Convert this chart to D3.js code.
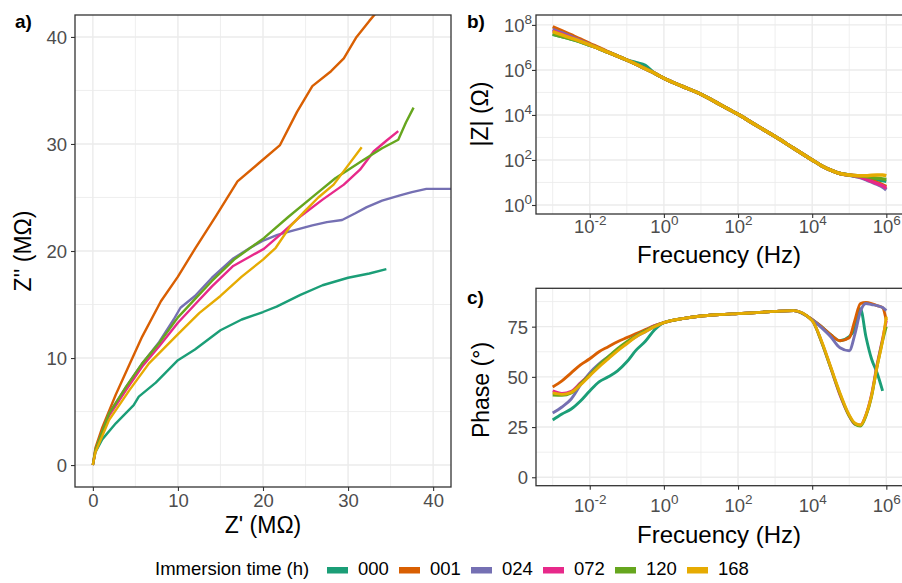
<!DOCTYPE html>
<html><head><meta charset="utf-8">
<script src="https://cdn.jsdelivr.net/npm/d3@7"></script>
<style>body{margin:0;background:#fff}svg{display:block}text{font-family:"Liberation Sans",Arial,sans-serif}</style>
</head><body><svg id="chart" width="902" height="583"></svg>
<script>
// ---------- DATA ----------
const seriesNames = ["000","001","024","072","120","168"];
const seriesColors = ["#1B9E77","#D95F02","#7570B3","#E7298A","#66A61E","#E6AB02"];

// Panel a: Nyquist, Z' and Z'' in MOhm
const zRe000 = [0,0.3,1.1,2.7,4.8,5.4,7.4,10,12,15,17.5,20,21.6,24.4,27,30,32.5,34.5];
const zIm000 = [0,1.2,2.4,3.9,5.6,6.4,7.7,9.8,10.8,12.6,13.6,14.3,14.8,15.9,16.8,17.5,17.9,18.3];
const zRe001 = [0,0.3,1.1,2.7,4.3,5.8,8,10,12,14.5,17,19.5,22,24,25.8,28,29.5,31,32.5,34.3,36];
const zIm001 = [0,1.6,3.5,6.6,9.4,12,15.3,17.6,20.2,23.3,26.5,28.2,29.9,33,35.4,36.8,38,40,41.5,43.2,45];
const zRe024 = [0,0.3,1.9,3.9,5.8,7.8,9.5,10.3,12,14,16.5,18.5,20.1,21.7,23.5,25.8,27.5,29.3,30.8,32.2,34,36.1,37.5,39.2,42.5];
const zIm024 = [0,1.4,4.8,7.3,9.5,11.5,13.6,14.7,15.8,17.5,19.3,20.3,21.0,21.5,21.9,22.4,22.7,22.9,23.5,24.1,24.7,25.2,25.5,25.8,25.8];
const zRe072 = [0,0.3,1.9,3.9,5.8,7.8,10,12,14,16.5,20.1,22,24.5,27,29.5,31.4,33,34.5,35.9];
const zIm072 = [0,1.3,4.6,7.0,9.2,11.1,13.3,15,16.7,18.6,20.2,21.5,23.3,24.8,26.2,27.6,29.3,30.3,31.2];
const zRe120 = [0,0.3,1.9,3.9,5.8,7.8,10,12,14,16.6,20.1,23,25.9,28.5,31.8,34,35.9,36.8,37.7];
const zIm120 = [0,1.4,4.8,7.3,9.5,11.4,13.8,15.5,17.2,19.2,21.2,23.2,25.1,26.8,28.5,29.6,30.4,32,33.4];
const zRe168 = [0,0.3,1.9,4.3,6.6,10.1,12.5,15,17.5,20,21.5,23.2,25,26.5,28.3,30,31.6];
const zIm168 = [0,1.2,4.2,7.0,9.5,12.3,14.2,15.8,17.6,19.2,20.3,22.3,23.8,25.0,26.2,28,29.7];

// Panels b, c: frequency (Hz)
const freq = [0.001,0.00178,0.00316,0.00562,0.01,0.0178,0.0316,0.0562,0.1,0.178,0.316,0.562,1,3.16,10,31.6,100,316,1000,3160,10000,17800,31600,56200,100000,141000,200000,282000,398000,562000,794000,1000000];

// |Z| (Ohm)
const modZ000 = [3.8e7,3.0e7,2.35e7,1.78e7,1.26e7,8.9e6,6.0e6,4.1e6,2.75e6,2.1e6,1.58e6,7.1e5,4.3e5,1.86e5,8.3e4,3.0e4,1.07e4,3.4e3,1.1e3,331,100,56,35.5,25.1,21.4,19,17.8,16.6,15.1,13.5,12,11.2];
const modZ001 = [8.3e7,5.5e7,3.6e7,2.35e7,1.5e7,9.8e6,6.3e6,4.1e6,2.75e6,1.78e6,1.12e6,7.1e5,4.3e5,1.86e5,8.3e4,3.0e4,1.07e4,3.4e3,1.1e3,331,100,56,35.5,25.1,21.4,20,17.8,15.1,12.6,10,7.9,6.6];
const modZ024 = [6.3e7,4.4e7,3.0e7,2.0e7,1.35e7,8.9e6,6.0e6,4.1e6,2.75e6,1.78e6,1.12e6,7.1e5,4.3e5,1.86e5,8.3e4,3.0e4,1.07e4,3.4e3,1.1e3,331,100,56,35.5,25.1,21.4,19,16.6,13.2,10.5,8.3,6.3,4.7];
const modZ072 = [5.5e7,3.9e7,2.75e7,1.9e7,1.29e7,8.9e6,6.0e6,4.1e6,2.75e6,1.78e6,1.12e6,7.1e5,4.3e5,1.86e5,8.3e4,3.0e4,1.07e4,3.4e3,1.1e3,331,100,56,35.5,25.1,21.4,20,17.4,14.1,11.2,8.9,7.1,5.5];
const modZ120 = [4.0e7,3.0e7,2.35e7,1.78e7,1.26e7,8.9e6,6.0e6,4.1e6,2.75e6,1.78e6,1.12e6,7.1e5,4.3e5,1.86e5,8.3e4,3.0e4,1.07e4,3.4e3,1.1e3,331,100,56,35.5,25.1,21.4,20.4,19.5,18.2,16.6,15.5,14.5,13.5];
const modZ168 = [5.0e7,3.6e7,2.6e7,1.86e7,1.29e7,8.9e6,6.0e6,4.1e6,2.75e6,1.78e6,1.12e6,7.1e5,4.3e5,1.86e5,8.3e4,3.0e4,1.07e4,3.4e3,1.1e3,331,100,56,35.5,25.1,21.4,20.4,20,20,21,21.4,21.4,20];

// Phase (deg)
const phase000 = [28.5,31.5,34,38,43,47.5,50,53,57.5,63.3,67.7,73.5,77,79,80.3,81,81.5,82,82.6,83,78.5,75,71,68,70,74,84,70,59,52,43,null];
const phase001 = [45,48,52,56,59,62.5,65,67.5,69.5,71.5,73.5,75.5,77,79,80.3,81,81.5,82,82.6,83,78.6,75,71,68,69.5,78,86.5,87,86.5,85.5,84.5,78];
const phase024 = [32,35,39,46,52,56.5,60,63.5,67,70,72.5,75,77,79,80.3,81,81.5,82,82.6,83,78.5,74.5,70,64.5,63,71,82.5,86.5,86,85.5,84.5,83];
const phase072 = [43,41.8,42.8,47,51,55.5,59.5,63.5,67,70.5,73,75.5,77,79,80.3,81,81.5,82,82.6,83,78,67.5,54.5,41,30.5,26.5,26,31,41,56,69,78];
const phase120 = [41,40.8,42,46.5,51,56,60,64,67.5,70.5,73,75.3,77,79,80.3,81,81.5,82,82.6,83,78,67.5,54.5,41.5,30.5,26.5,25.5,30.5,40,55,68,75];
const phase168 = [42,41.3,42.3,46,50.5,55,59,63,66.5,70,72.5,75,77,79,80.3,81,81.5,82,82.6,83,78,68,55,42,31,27,26,31,40.5,55,68,80];

// Tick values
const nyqTicks = [0,10,20,30,40];
const nyqMinor = [5,15,25,35];
const freqTicks = [1e-2,1,1e2,1e4,1e6];
const freqMinor = [1e-3,1e-1,1e1,1e3,1e5];
const modZTicks = [1,1e2,1e4,1e6,1e8];
const modZMinor = [1e1,1e3,1e5,1e7];
const phaseTicks = [0,25,50,75];
const phaseMinor = [12.5,37.5,62.5,87.5];

// ---------- DRAW ----------
const svg = d3.select("#chart");
svg.append("rect").attr("width",902).attr("height",583).attr("fill","#fff");

const nyq = [[zRe000,zIm000],[zRe001,zIm001],[zRe024,zIm024],[zRe072,zIm072],[zRe120,zIm120],[zRe168,zIm168]];
const modZ = [modZ000,modZ001,modZ024,modZ072,modZ120,modZ168];
const phase = [phase000,phase001,phase024,phase072,phase120,phase168];

const GRID = "#EBEBEB", BORDER = "#333333", TICKTXT = "#4D4D4D";

function frame(id, xs, ys, xMaj, xMin, yMaj, yMin) {
  const [x0,x1] = xs.range(), [y1,y0] = ys.range();
  const g = svg.append("g");
  g.append("rect").attr("x",x0).attr("y",y0).attr("width",x1-x0).attr("height",y1-y0).attr("fill","#fff");
  g.selectAll(".vmin").data(xMin).join("line").attr("x1",d=>xs(d)).attr("x2",d=>xs(d)).attr("y1",y0).attr("y2",y1).attr("stroke",GRID).attr("stroke-width",0.8);
  g.selectAll(".hmin").data(yMin).join("line").attr("y1",d=>ys(d)).attr("y2",d=>ys(d)).attr("x1",x0).attr("x2",x1).attr("stroke",GRID).attr("stroke-width",0.8);
  g.selectAll(".vmaj").data(xMaj).join("line").attr("x1",d=>xs(d)).attr("x2",d=>xs(d)).attr("y1",y0).attr("y2",y1).attr("stroke",GRID).attr("stroke-width",1.4);
  g.selectAll(".hmaj").data(yMaj).join("line").attr("y1",d=>ys(d)).attr("y2",d=>ys(d)).attr("x1",x0).attr("x2",x1).attr("stroke",GRID).attr("stroke-width",1.4);
  svg.append("clipPath").attr("id",id).append("rect").attr("x",x0).attr("y",y0).attr("width",x1-x0).attr("height",y1-y0);
  const lines = svg.append("g").attr("clip-path",`url(#${id})`);
  return {lines, x0, x1, y0, y1};
}
function border(f) {
  svg.append("rect").attr("x",f.x0).attr("y",f.y0).attr("width",f.x1-f.x0).attr("height",f.y1-f.y0)
    .attr("fill","none").attr("stroke",BORDER).attr("stroke-width",1.3);
}
function sup(sel, exp, sz) {
  sel.append("tspan").text("10");
  sel.append("tspan").attr("dy",-8).attr("font-size",sz).text(exp);
}
function xAxis(xs, y, ticks, baseline, pow) {
  const a = svg.append("g").attr("transform",`translate(0,${y})`)
    .call(d3.axisBottom(xs).tickValues(ticks).tickSize(4).tickFormat(""));
  a.select(".domain").remove();
  a.selectAll(".tick line").attr("stroke",BORDER).attr("stroke-width",1.1);
  a.selectAll(".tick").append("text").attr("y",baseline).attr("text-anchor","middle")
    .attr("fill",TICKTXT).attr("font-size",18.5).each(function(d){
      const t = d3.select(this);
      if (pow) sup(t, String(Math.round(Math.log10(d))), 13.5); else t.text(d);
    });
}
function yAxis(ys, x, ticks, dx, pow) {
  const a = svg.append("g").attr("transform",`translate(${x},0)`)
    .call(d3.axisLeft(ys).tickValues(ticks).tickSize(4).tickFormat(""));
  a.select(".domain").remove();
  a.selectAll(".tick line").attr("stroke",BORDER).attr("stroke-width",1.1);
  a.selectAll(".tick").append("text").attr("x",dx).attr("y",6.5).attr("text-anchor","end")
    .attr("fill",TICKTXT).attr("font-size",18.5).each(function(d){
      const t = d3.select(this);
      if (pow) sup(t, String(Math.round(Math.log10(d))), 13.5); else t.text(d);
    });
}

// Panel a
const ax = d3.scaleLinear().domain([-2.1,42.1]).range([75,451]);
const ay = d3.scaleLinear().domain([-2.05,42.05]).range([487,15]);
const fa = frame("clipA", ax, ay, nyqTicks, nyqMinor, nyqTicks, nyqMinor);
nyq.forEach(([re,im],i)=>{
  const pts = re.map((v,j)=>[v,im[j]]);
  fa.lines.append("path").attr("d", d3.line().x(d=>ax(d[0])).y(d=>ay(d[1]))(pts))
    .attr("fill","none").attr("stroke",seriesColors[i]).attr("stroke-width",2.4).attr("stroke-linejoin","round");
});
border(fa);
xAxis(ax, 487, nyqTicks, 20, false);
yAxis(ay, 75, nyqTicks, -8, false);

// Panel b
const bx = d3.scaleLog().domain([10**-3.45, 10**6.45]).range([536,903]);
const by = d3.scaleLog().domain([10**-0.4, 10**8.44]).range([214,15]);
const fb = frame("clipB", bx, by, freqTicks, freqMinor, modZTicks, modZMinor);
modZ.forEach((vals,i)=>{
  const pts = freq.map((f,j)=>[f,vals[j]]);
  fb.lines.append("path").attr("d", d3.line().curve(d3.curveMonotoneX).x(d=>bx(d[0])).y(d=>by(d[1]))(pts))
    .attr("fill","none").attr("stroke",seriesColors[i]).attr("stroke-width",3.4).attr("stroke-linejoin","round");
});
border(fb);
xAxis(bx, 214, freqTicks, 19, true);
yAxis(by, 536, modZTicks, -4, true);

// Panel c
const cx = d3.scaleLog().domain([10**-3.45, 10**6.45]).range([536,903]);
const cy = d3.scaleLinear().domain([-4.2,94.1]).range([485.7,288.3]);
const fc = frame("clipC", cx, cy, freqTicks, freqMinor, phaseTicks, phaseMinor);
phase.forEach((vals,i)=>{
  const pts = freq.map((f,j)=>[f,vals[j]]);
  fc.lines.append("path").attr("d", d3.line().defined(d=>d[1]!=null).curve(d3.curveMonotoneX).x(d=>cx(d[0])).y(d=>cy(d[1]))(pts))
    .attr("fill","none").attr("stroke",seriesColors[i]).attr("stroke-width",2.9).attr("stroke-linejoin","round");
});
border(fc);
xAxis(cx, 485.7, freqTicks, 26, true);
yAxis(cy, 536, phaseTicks, -8, false);

// Axis titles
function title(txt, x, y, rot, sz) {
  const t = svg.append("text").attr("font-size",sz).attr("fill","#000").attr("text-anchor","middle").text(txt);
  if (rot) t.attr("transform",`translate(${x},${y}) rotate(-90)`); else t.attr("x",x).attr("y",y);
}
title("Z' (M\u03A9)", 263, 533, false, 23);
title("Z'' (M\u03A9)", 31, 251, true, 23);
title("Frecuency (Hz)", 719, 263, false, 24);
title("|Z| (\u03A9)", 488, 114, true, 23);
title("Frecuency (Hz)", 719, 543, false, 24);
title("Phase (\u00B0)", 489, 390, true, 23);

// Panel tags
[["a)",15,28],["b)",467,28],["c)",467,304]].forEach(([t,x,y])=>
  svg.append("text").attr("x",x).attr("y",y).attr("font-size",19).attr("font-weight","bold").attr("fill","#000").text(t));

// Legend
const lg = svg.append("g");
lg.append("text").attr("x",155).attr("y",575).attr("font-size",18.5).attr("fill","#000").text("Immersion time (h)");
seriesNames.forEach((n,i)=>{
  const x = 327 + i*72;
  lg.append("rect").attr("x",x).attr("y",567).attr("width",21).attr("height",6.5).attr("fill",seriesColors[i]);
  lg.append("text").attr("x",x+31).attr("y",575).attr("font-size",18.5).attr("fill","#000").text(n);
});
</script></body></html>
